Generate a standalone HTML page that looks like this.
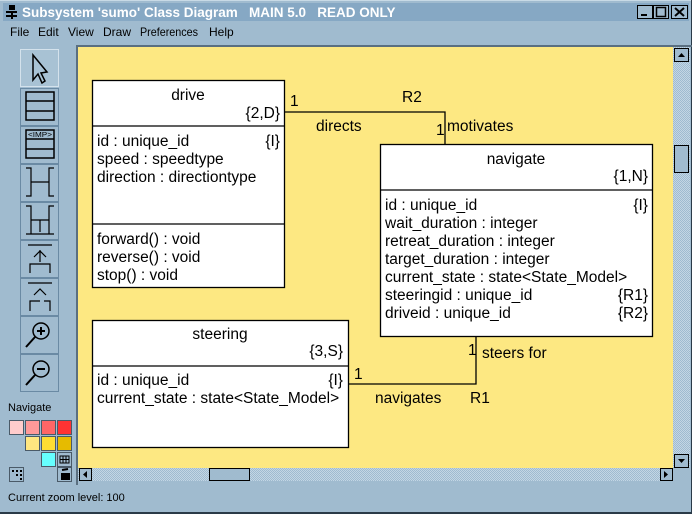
<!DOCTYPE html>
<html><head><style>
body{margin:0;width:692px;height:514px;overflow:hidden;background:#a0bbcf;font-family:"Liberation Sans",Arial,sans-serif;}
</style></head><body>
<svg width="692" height="514" xmlns="http://www.w3.org/2000/svg" style="position:absolute;left:0;top:0" font-family="Liberation Sans, Arial, sans-serif">
<defs>
<pattern id="chk" width="2" height="2" patternUnits="userSpaceOnUse"><rect width="2" height="2" fill="#c4d6e4"/><rect width="1" height="1" fill="#9fbbd0"/><rect x="1" y="1" width="1" height="1" fill="#9fbbd0"/></pattern>
</defs>
<rect width="692" height="514" fill="#a0bbcf"/>
<rect x="0" y="0" width="692" height="1" fill="#c8dae6"/>
<rect x="691" y="0" width="1" height="514" fill="#2a3a48"/>
<rect x="0" y="512" width="692" height="2" fill="#2a3a48"/>
<!-- title bar -->
<rect x="3" y="3" width="686" height="18" fill="#86a8c4"/>
<g fill="#000"><rect x="9" y="5" width="6" height="5"/><rect x="6" y="11" width="11" height="2"/><rect x="6" y="15" width="11" height="2"/><rect x="11" y="11" width="2" height="8"/></g>
<text x="22" y="17" font-size="13.5" font-weight="bold" fill="#fff" xml:space="preserve">Subsystem 'sumo' Class Diagram   MAIN 5.0   READ ONLY</text>
<g fill="#a0bbcf" stroke="#000"><rect x="637.5" y="5.5" width="15" height="13"/><rect x="653.5" y="5.5" width="15" height="13"/><rect x="671.5" y="5.5" width="16" height="13"/></g>
<rect x="641" y="14" width="6" height="2" fill="#000"/>
<rect x="656.5" y="7.5" width="9" height="9" fill="none" stroke="#000" stroke-width="1.5"/>
<path d="M675 8 L684 16 M684 8 L675 16" stroke="#000" stroke-width="2"/>
<!-- menu -->
<g font-size="12" fill="#000">
<text x="10" y="36">File</text><text x="38" y="36">Edit</text><text x="68" y="36">View</text><text x="103" y="36">Draw</text><text x="140" y="36" textLength="58" lengthAdjust="spacingAndGlyphs">Preferences</text><text x="209" y="36">Help</text>
</g>
<!-- canvas -->
<rect x="76" y="45" width="616" height="2" fill="#5a6f80"/>
<rect x="76" y="45" width="2" height="440" fill="#5a6f80"/>
<rect x="78" y="47" width="595" height="421" fill="#fde882"/>
<rect x="673" y="47" width="17" height="421" fill="url(#chk)"/>
<rect x="78" y="468" width="595" height="13" fill="url(#chk)"/>
<rect x="673" y="468" width="17" height="13" fill="#a0bbcf"/>
<g fill="#a0bbcf" stroke="#000"><rect x="674.5" y="48.5" width="14" height="13"/><rect x="674.5" y="145.5" width="14" height="27"/><rect x="674.5" y="454.5" width="14" height="13"/>
<rect x="79.5" y="468.5" width="12" height="12"/><rect x="209.5" y="468.5" width="40" height="12"/><rect x="660.5" y="468.5" width="12" height="12"/></g>
<path d="M678 57 L685 57 L681.5 53Z M678 459 L685 459 L681.5 463Z M87 471 L87 478 L83 474.5Z M664 471 L664 478 L668 474.5Z" fill="#000"/>
<!-- toolbar -->
<g fill="#a0bbcf" stroke="#6a8aa4">
<rect x="20.5" y="49.5" width="38" height="37" fill="#a8c2d4" stroke="#d4e2ec"/>
<rect x="20.5" y="88.5" width="38" height="37"/><rect x="20.5" y="126.5" width="38" height="37"/><rect x="20.5" y="164.5" width="38" height="37"/><rect x="20.5" y="202.5" width="38" height="37"/><rect x="20.5" y="240.5" width="38" height="37"/><rect x="20.5" y="278.5" width="38" height="37"/><rect x="20.5" y="316.5" width="38" height="37"/><rect x="20.5" y="354.5" width="38" height="37"/>
</g>
<g fill="none" stroke="#000" stroke-width="1.5">
<path d="M33 55 L33 80 L38 74 L42 83 L45 81 L41 73 L47 72 Z"/>
<rect x="26" y="92" width="28" height="28"/><path d="M26 101 H54 M26 111 H54"/>
<rect x="26" y="130" width="28" height="28"/><path d="M26 139 H54 M26 149 H54"/>
<path d="M26 168 H31 V196 H26 M54 168 H49 V196 H54 M31 182 H49" stroke-width="1.2"/>
<path d="M26 206 H31 V234 M54 206 H49 V234 M31 220 H49 M40 220 V232 M26 234 H54" stroke-width="1.2"/>
<path d="M28 245 H52 M40 250 V262 M34 257 L40 251 L46 257 M30 273 V264 H50 V273" stroke-width="1.2"/>
<path d="M28 283 H52 M34 295 L40 289 L46 295 M30 311 V301 H40 M50 311 V301 H44" stroke-width="1.2"/>
<circle cx="41" cy="331" r="8"/><path d="M35 337 L26 347 M37 331 H45 M41 327 V335" stroke-width="2"/>
<circle cx="41" cy="369" r="8"/><path d="M35 375 L26 385 M37 369 H45" stroke-width="2"/>
</g>
<text x="28" y="137" font-size="7" fill="#000" textLength="24" lengthAdjust="spacingAndGlyphs">&lt;IMP&gt;</text>
<!-- palette -->
<text x="8" y="411" font-size="11" fill="#000">Navigate</text>
<g stroke="#4a5a68">
<rect x="9.5" y="420.5" width="14" height="14" fill="#ffcccc"/><rect x="25.5" y="420.5" width="14" height="14" fill="#ff9999"/><rect x="41.5" y="420.5" width="14" height="14" fill="#ff6666"/><rect x="57.5" y="420.5" width="14" height="14" fill="#ff3333"/>
<rect x="25.5" y="436.5" width="14" height="14" fill="#ffe680"/><rect x="41.5" y="436.5" width="14" height="14" fill="#ffdd33"/><rect x="57.5" y="436.5" width="14" height="14" fill="#e6bb00"/>
<rect x="41.5" y="452.5" width="14" height="14" fill="#66ffff"/><rect x="57.5" y="452.5" width="14" height="14" fill="#a0bbcf"/>
<rect x="9.5" y="467.5" width="14" height="14" fill="#a0bbcf"/><rect x="57.5" y="467.5" width="14" height="14" fill="#a0bbcf"/>
</g>
<path d="M60 456 h9 v7 h-9z M60 459.5 h9 M63 456 v7 M66 456 v7" stroke="#000" fill="none"/>
<path d="M12 471 h2 M16 471 h2 M20 471 h2 M20 475 h2 M20 479 h2 M16 475 h2" stroke="#000" stroke-width="2"/>
<path d="M61 473 h9 v7 h-9z" fill="#000"/><path d="M62 470 l6 -1" stroke="#000" stroke-width="2"/>
<text x="8" y="501" font-size="11" fill="#000">Current zoom level: 100</text>
<!-- classes -->
<g stroke="#000" stroke-width="1.3" fill="#fff">
<rect x="92.5" y="80.5" width="192" height="207"/>
<rect x="380.5" y="144.5" width="272" height="192"/>
<rect x="92.5" y="320.5" width="256" height="127"/>
</g>
<g stroke="#000" stroke-width="1.3" fill="none">
<path d="M92 126 H285 M92 224 H285 M380 190 H653 M92 366 H349"/>
<path d="M285 112 H445 V144 M349 384 H476 V336"/>
</g>
<g font-size="15.5" fill="#000">
<text x="188" y="100" text-anchor="middle">drive</text>
<text x="280" y="118" text-anchor="end">{2,D}</text>
<text x="97" y="146">id : unique_id</text><text x="280" y="146" text-anchor="end">{I}</text>
<text x="97" y="164">speed : speedtype</text>
<text x="97" y="182">direction : directiontype</text>
<text x="97" y="244">forward() : void</text>
<text x="97" y="262">reverse() : void</text>
<text x="97" y="280">stop() : void</text>

<text x="516" y="164" text-anchor="middle">navigate</text>
<text x="648" y="181" text-anchor="end">{1,N}</text>
<text x="385" y="210">id : unique_id</text><text x="648" y="210" text-anchor="end">{I}</text>
<text x="385" y="228">wait_duration : integer</text>
<text x="385" y="246">retreat_duration : integer</text>
<text x="385" y="264">target_duration : integer</text>
<text x="385" y="282">current_state : state&lt;State_Model&gt;</text>
<text x="385" y="300">steeringid : unique_id</text><text x="648" y="300" text-anchor="end">{R1}</text>
<text x="385" y="318">driveid : unique_id</text><text x="648" y="318" text-anchor="end">{R2}</text>

<text x="220" y="339" text-anchor="middle">steering</text>
<text x="343" y="356" text-anchor="end">{3,S}</text>
<text x="97" y="385">id : unique_id</text><text x="343" y="385" text-anchor="end">{I}</text>
<text x="97" y="403">current_state : state&lt;State_Model&gt;</text>

<text x="290" y="106">1</text>
<text x="402" y="102">R2</text>
<text x="316" y="131">directs</text>
<text x="436" y="135">1</text>
<text x="447" y="131">motivates</text>
<text x="354" y="379">1</text>
<text x="375" y="403">navigates</text>
<text x="470" y="403">R1</text>
<text x="468" y="355">1</text>
<text x="482" y="358">steers for</text>
</g>
</svg>
</body></html>
